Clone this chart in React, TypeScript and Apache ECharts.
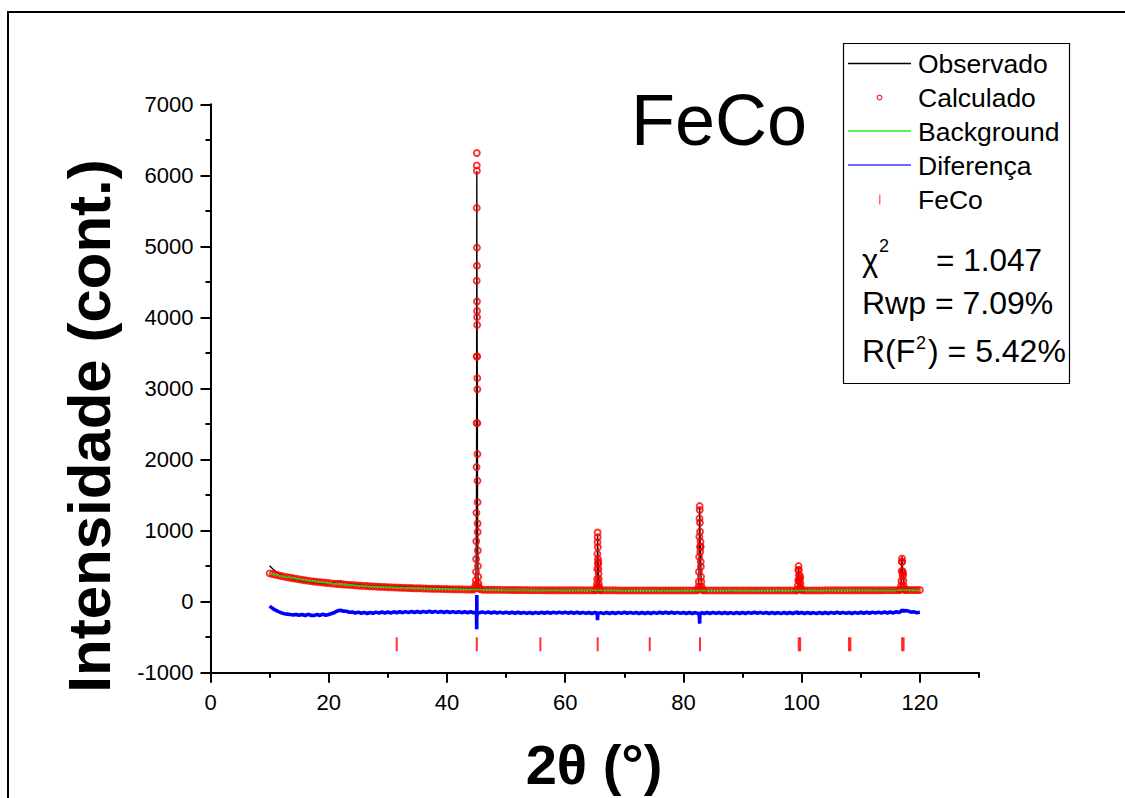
import React, { useEffect, useRef } from "react";
import * as echarts from "echarts";

// ---- axis ticks ----
const xMajorTicks = [0, 20, 40, 60, 80, 100, 120];
const xMinorTicks = [10, 30, 50, 70, 90, 110, 130];

// ---- regular 2θ grid (start / step) for baseline regions ----
const gridStart = 10;
const gridStep = 0.5;

// Background (green), 10°..120° every 0.5°
const backgroundY = [
  398, 388, 379, 370, 361, 352, 344, 336, 328, 321,
  314, 307, 301, 295, 289, 284, 279, 274, 269, 265,
  261, 257, 253, 249, 246, 242, 239, 236, 233, 230,
  227, 224, 222, 219, 217, 214, 212, 210, 208, 206,
  204, 202, 200, 199, 197, 195, 194, 192, 191, 189,
  188, 187, 185, 184, 183, 182, 181, 180, 179, 178,
  177, 176, 175, 174, 173, 173, 172, 171, 171, 170,
  170, 169, 169, 168, 168, 167, 167, 166, 166, 165,
  165, 165, 164, 164, 164, 163, 163, 163, 162, 162,
  162, 162, 162, 161, 161, 161, 161, 161, 160, 160,
  160, 160, 160, 160, 160, 160, 159, 159, 159, 159,
  159, 159, 159, 159, 159, 159, 159, 159, 158, 158,
  158, 158, 158, 158, 158, 158, 158, 158, 158, 158,
  158, 158, 158, 158, 158, 158, 158, 158, 158, 158,
  158, 158, 158, 158, 158, 158, 158, 158, 158, 158,
  158, 158, 158, 158, 158, 158, 158, 158, 158, 158,
  158, 158, 158, 158, 158, 158, 158, 158, 158, 158,
  158, 158, 158, 158, 158, 158, 158, 158, 158, 158,
  158, 158, 158, 158, 158, 158, 158, 158, 159, 159,
  159, 159, 159, 159, 159, 159, 159, 160, 160, 160,
  160, 160, 160, 161, 161, 161, 161, 161, 162, 162,
  162, 162, 162, 163, 163, 163, 163, 164, 164, 164,
  164,
];

// Observed (black) on the same grid
const observedY = [
  506, 463, 429, 400, 373, 352, 338, 324, 312, 310,
  294, 291, 279, 281, 270, 261, 264, 254, 256, 247,
  251, 257, 271, 285, 290, 282, 271, 261, 253, 242,
  245, 234, 237, 227, 231, 224, 230, 222, 228, 220,
  225, 217, 223, 216, 221, 214, 220, 212, 218, 210,
  216, 209, 214, 207, 213, 206, 210, 203, 207, 200,
  204, 197, 201, 194, 198, 192, 196, 189, 194, 187,
  180, 177, 181, 174, 179, 172, 177, 170, 175, 168,
  173, 167, 171, 165, 170, 163, 168, 162, 166, 160,
  167, 161, 168, 161, 168, 162, 169, 163, 169, 163,
  168, 162, 167, 161, 166, 160, 164, 158, 163, 157,
  162, 156, 161, 155, 162, 156, 163, 157, 163, 157,
  164, 158, 163, 157, 162, 156, 161, 155, 162, 156,
  163, 157, 164, 158, 165, 159, 164, 158, 163, 157,
  162, 156, 161, 155, 160, 154, 161, 155, 162, 156,
  163, 157, 162, 156, 161, 155, 160, 154, 161, 155,
  162, 156, 163, 157, 164, 158, 163, 157, 162, 156,
  161, 155, 160, 154, 161, 155, 162, 156, 163, 157,
  162, 156, 161, 155, 160, 154, 161, 155, 163, 157,
  164, 158, 165, 159, 164, 158, 163, 158, 165, 159,
  166, 160, 167, 162, 169, 163, 170, 164, 172, 166,
  173, 167, 176, 173, 183, 195, 188, 179, 176, 172,
  174,
];

// Difference (blue) on the same grid
const differenceY = [
  -62, -95, -120, -140, -158, -170, -176, -182, -186, -181,
  -192, -180, -195, -178, -193, -196, -180, -194, -178, -191,
  -180, -166, -152, -130, -122, -134, -136, -149, -146, -162,
  -148, -164, -151, -166, -152, -164, -148, -162, -146, -160,
  -145, -159, -143, -157, -142, -155, -140, -154, -139, -153,
  -138, -152, -137, -151, -136, -150, -137, -151, -138, -152,
  -139, -153, -140, -154, -141, -155, -142, -156, -143, -157,
  -146, -156, -144, -158, -145, -159, -146, -160, -147, -161,
  -148, -162, -149, -163, -150, -164, -151, -165, -152, -166,
  -151, -165, -150, -164, -149, -163, -148, -162, -147, -161,
  -148, -162, -149, -163, -150, -164, -151, -165, -152, -166,
  -153, -167, -154, -168, -153, -167, -152, -166, -151, -165,
  -150, -164, -151, -165, -152, -166, -153, -167, -152, -166,
  -151, -165, -150, -164, -149, -163, -150, -164, -151, -165,
  -152, -166, -153, -167, -154, -168, -153, -167, -152, -166,
  -151, -165, -152, -166, -153, -167, -154, -168, -153, -167,
  -152, -166, -151, -165, -150, -164, -151, -165, -152, -166,
  -153, -167, -154, -168, -153, -167, -152, -166, -151, -165,
  -152, -166, -153, -167, -154, -168, -153, -167, -152, -166,
  -151, -165, -150, -164, -151, -165, -152, -166, -151, -165,
  -150, -164, -149, -163, -148, -162, -147, -161, -146, -160,
  -145, -159, -142, -152, -136, -124, -131, -147, -144, -156,
  -150,
];

// ---- Bragg peaks (2θ, calculated, observed) ----
const peak1X = [44.7, 44.78, 44.84, 44.88, 44.91, 44.94, 44.96, 44.98, 45.0, 45.01, 45.02, 45.03, 45.035, 45.04, 45.05, 45.06, 45.07, 45.075, 45.08, 45.09, 45.1, 45.11, 45.12, 45.13, 45.14, 45.15, 45.16, 45.17, 45.18, 45.19, 45.2, 45.22, 45.24, 45.27, 45.31, 45.36, 45.44, 45.55];
const peak1Calc = [186, 205, 240, 300, 420, 600, 850, 1250, 1894, 2513, 3450, 4516, 5542, 6140, 6315, 6065, 4982, 4728, 4224, 4092, 4004, 3895, 3450, 3145, 2990, 2513, 2077, 1700, 1400, 1100, 980, 720, 500, 350, 260, 215, 192, 178];
const peak1Obs = [190, 200, 250, 290, 430, 610, 870, 1230, 1850, 2600, 3500, 4600, 5600, 5950, 6060, 5900, 4900, 4650, 4300, 4000, 3950, 3800, 3400, 3200, 3050, 2500, 2100, 1720, 1380, 1120, 960, 730, 490, 360, 255, 220, 190, 180];

const peak2X = [65.2, 65.28, 65.33, 65.37, 65.4, 65.42, 65.44, 65.46, 65.48, 65.5, 65.52, 65.54, 65.56, 65.58, 65.6, 65.62, 65.64, 65.67, 65.7, 65.75, 65.82, 65.9];
const peak2Calc = [162, 175, 200, 250, 320, 461, 673, 837, 974, 907, 766, 603, 532, 560, 540, 461, 391, 320, 250, 200, 175, 163];
const peak2Obs = [165, 170, 205, 240, 330, 450, 690, 820, 940, 880, 780, 590, 540, 550, 530, 470, 380, 330, 245, 205, 172, 160];

const peak3X = [82.4, 82.5, 82.56, 82.6, 82.63, 82.66, 82.69, 82.72, 82.75, 82.77, 82.79, 82.81, 82.83, 82.85, 82.87, 82.89, 82.91, 82.93, 82.95, 82.98, 83.02, 83.08, 83.16, 83.28];
const peak3Calc = [162, 175, 210, 280, 421, 632, 914, 1172, 1345, 1289, 1111, 984, 773, 702, 773, 843, 773, 562, 491, 350, 280, 210, 175, 162];
const peak3Obs = [160, 178, 205, 290, 410, 650, 900, 1190, 1320, 1270, 1130, 960, 790, 690, 780, 830, 760, 570, 480, 355, 275, 205, 172, 160];

const peak4X = [99.2, 99.32, 99.38, 99.42, 99.45, 99.48, 99.51, 99.54, 99.58, 99.62, 99.66, 99.7, 99.74, 99.78, 99.84, 99.92, 100.05];
const peak4Calc = [160, 175, 233, 304, 445, 501, 445, 374, 304, 280, 330, 367, 330, 260, 200, 172, 160];
const peak4Obs = [158, 178, 230, 310, 440, 490, 450, 370, 300, 285, 325, 360, 335, 255, 205, 170, 162];

const peak5X = [116.6, 116.75, 116.82, 116.87, 116.91, 116.95, 116.98, 117.01, 117.04, 117.08, 117.13, 117.17, 117.21, 117.26, 117.34, 117.45];
const peak5Calc = [164, 178, 220, 290, 430, 560, 609, 560, 430, 360, 413, 380, 290, 220, 182, 168];
const peak5Obs = [172, 180, 230, 300, 440, 590, 640, 570, 440, 375, 420, 390, 300, 230, 190, 175];

// difference around the peaks
const diff1X = [44.96, 45.0, 45.02, 45.03, 45.04, 45.05, 45.06, 45.08, 45.1, 45.13, 45.18];
const diff1Y = [-150, -200, -280, -390, -150, 95, -40, -210, -170, -150, -160];
const diff2X = [65.4, 65.44, 65.47, 65.5, 65.54, 65.6];
const diff2Y = [-160, -210, -262, -200, -150, -165];
const diff3X = [82.66, 82.72, 82.75, 82.78, 82.82, 82.9];
const diff3Y = [-165, -250, -310, -210, -150, -170];
const diff4X = [99.42, 99.48, 99.53, 99.6];
const diff4Y = [-150, -185, -145, -160];
const diff5X = [116.85, 116.95, 117.0, 117.08, 117.2];
const diff5Y = [-135, -110, -105, -125, -140];

// FeCo reflection positions (2θ) and the level of their markers
const reflectionX = [31.5, 45.05, 55.8, 65.5, 74.3, 82.8, 99.5, 99.75, 108.0, 108.25, 117.0, 117.25];
const reflectionLevel = -600;

// legend / annotations
const legendNames = ["Observado", "Calculado", "Background", "Diferença", "FeCo"];

const FONT = "'Liberation Sans', Arial, sans-serif";

type PeakSet = { x: number[]; y: number[] };

const gridX = backgroundY.map((_, i) => Math.round((gridStart + i * gridStep) * 100) / 100);

function merge(gridY: number[], sets: PeakSet[]): [number, number][] {
  const pts: [number, number][] = [];
  gridX.forEach((x, i) => {
    const inside = sets.some((s) => x >= s.x[0] && x <= s.x[s.x.length - 1]);
    if (!inside) pts.push([x, gridY[i]]);
  });
  sets.forEach((s) => s.x.forEach((x, j) => pts.push([x, s.y[j]])));
  pts.sort((a, b) => a[0] - b[0]);
  return pts;
}

function txt(text: string, x: number, y: number, size: number, opts: any = {}) {
  return {
    type: "text",
    x,
    y,
    rotation: opts.rotation || 0,
    z: 100,
    style: {
      text,
      fill: "#000",
      fontSize: size,
      fontFamily: FONT,
      fontWeight: opts.bold ? "bold" : "normal",
      align: opts.align || "left",
      textAlign: opts.align || "left",
      verticalAlign: "middle",
      textVerticalAlign: "middle",
    },
  };
}

export default function App() {
  const ref = useRef<HTMLDivElement>(null);

  useEffect(() => {
    if (!ref.current) return;
    const chart = echarts.init(ref.current, null, { renderer: "svg" });

    const calcSets: PeakSet[] = [
      { x: peak1X, y: peak1Calc },
      { x: peak2X, y: peak2Calc },
      { x: peak3X, y: peak3Calc },
      { x: peak4X, y: peak4Calc },
      { x: peak5X, y: peak5Calc },
    ];
    const obsSets: PeakSet[] = [
      { x: peak1X, y: peak1Obs },
      { x: peak2X, y: peak2Obs },
      { x: peak3X, y: peak3Obs },
      { x: peak4X, y: peak4Obs },
      { x: peak5X, y: peak5Obs },
    ];
    const diffSets: PeakSet[] = [
      { x: diff1X, y: diff1Y },
      { x: diff2X, y: diff2Y },
      { x: diff3X, y: diff3Y },
      { x: diff4X, y: diff4Y },
      { x: diff5X, y: diff5Y },
    ];

    const axisLine = { show: true, onZero: false, lineStyle: { color: "#000", width: 2 } };

    const legendRows = [63.5, 97.5, 131, 165, 199.5];

    chart.setOption({
      animation: false,
      backgroundColor: "#fff",
      grid: { left: 210.5, right: 146, top: 104.3, bottom: 125.3, containLabel: false },
      xAxis: [
        {
          type: "value",
          min: 0,
          max: 130,
          interval: 20,
          position: "bottom",
          axisLine,
          axisTick: { show: true, inside: false, length: 10, lineStyle: { width: 2, color: "#000" }, customValues: xMajorTicks },
          axisLabel: { customValues: xMajorTicks, fontSize: 22, color: "#000", fontFamily: FONT, margin: 19, formatter: (v: number) => String(v) },
          splitLine: { show: false },
        },
        {
          type: "value",
          min: 0,
          max: 130,
          interval: 10,
          position: "bottom",
          axisLine: { show: false, onZero: false },
          axisTick: { show: true, inside: false, length: 5, lineStyle: { width: 2, color: "#000" }, customValues: xMinorTicks },
          axisLabel: { show: false },
          splitLine: { show: false },
        },
      ],
      yAxis: {
        type: "value",
        min: -1000,
        max: 7000,
        interval: 1000,
        axisLine,
        axisTick: { show: true, inside: false, length: 10, lineStyle: { width: 2, color: "#000" } },
        minorTick: { show: true, splitNumber: 2, length: 5, lineStyle: { width: 2, color: "#000" } },
        axisLabel: { fontSize: 22, color: "#000", fontFamily: FONT, margin: 17, formatter: (v: number) => String(v) },
        splitLine: { show: false },
        minorSplitLine: { show: false },
      },
      series: [
        {
          name: legendNames[0],
          type: "line",
          data: merge(observedY, obsSets),
          symbol: "none",
          lineStyle: { color: "#000", width: 1.3 },
          z: 1,
        },
        {
          name: legendNames[1],
          type: "scatter",
          data: merge(backgroundY, calcSets),
          symbol: "circle",
          symbolSize: 6,
          itemStyle: { color: "rgba(0,0,0,0)", borderColor: "#ff0000", borderWidth: 1.9 },
          z: 2,
        },
        {
          name: legendNames[2],
          type: "line",
          data: gridX.map((x, i) => [x, backgroundY[i]]),
          symbol: "none",
          lineStyle: { color: "#00e000", width: 1.5 },
          z: 3,
        },
        {
          name: legendNames[3],
          type: "line",
          data: merge(differenceY, diffSets),
          symbol: "none",
          lineStyle: { color: "#0000ff", width: 3.6 },
          z: 1,
        },
        {
          name: legendNames[4],
          type: "scatter",
          data: reflectionX.map((x) => [x, reflectionLevel]),
          symbol: "rect",
          symbolSize: [2, 14],
          itemStyle: { color: "#ff0000" },
          z: 2,
        },
      ],
      graphic: [
        // outer frame
        {
          type: "rect",
          shape: { x: 8, y: 12, width: 1300, height: 900 },
          style: { fill: "none", stroke: "#000", lineWidth: 2 },
          silent: true,
        },
        // legend box
        {
          type: "rect",
          shape: { x: 843.5, y: 43.5, width: 226, height: 340 },
          style: { fill: "#fff", stroke: "#000", lineWidth: 1.2 },
          z: 50,
        },
        { type: "line", shape: { x1: 848, y1: legendRows[0], x2: 911, y2: legendRows[0] }, style: { stroke: "#000", lineWidth: 1.3 }, z: 60 },
        { type: "circle", shape: { cx: 879.5, cy: legendRows[1], r: 2.4 }, style: { fill: "none", stroke: "#ff2020", lineWidth: 1.2 }, z: 60 },
        { type: "line", shape: { x1: 848, y1: legendRows[2], x2: 911, y2: legendRows[2] }, style: { stroke: "#22ee22", lineWidth: 1.5 }, z: 60 },
        { type: "line", shape: { x1: 848, y1: legendRows[3], x2: 911, y2: legendRows[3] }, style: { stroke: "#6a6aff", lineWidth: 2 }, z: 60 },
        { type: "rect", shape: { x: 879, y: legendRows[4] - 5, width: 1.5, height: 10 }, style: { fill: "#ff7070" }, z: 60 },
        ...legendNames.map((n, i) => txt(n, 918, legendRows[i] + 0.5, 26.5)),
        // statistics
        txt("χ", 862, 260, 31),
        txt("2", 879, 246, 18),
        txt("= 1.047", 936, 260, 31.5),
        txt("Rwp = 7.09%", 862, 303, 32),
        txt("R(F", 862, 351, 32),
        txt("2", 916, 343, 18),
        txt(") = 5.42%", 928, 351, 32),
        // phase label
        txt("FeCo", 631, 120, 72),
        // axis titles
        txt("Intensidade (cont.)", 89, 426, 60, { bold: true, align: "center", rotation: Math.PI / 2 }),
        txt("2θ (°)", 594, 764, 56, { bold: true, align: "center" }),
      ],
    });

    return () => chart.dispose();
  }, []);

  return (
    <div
      ref={ref}
      style={{ position: "fixed", left: 0, top: 0, width: 1125, height: 798, background: "#fff" }}
    />
  );
}
